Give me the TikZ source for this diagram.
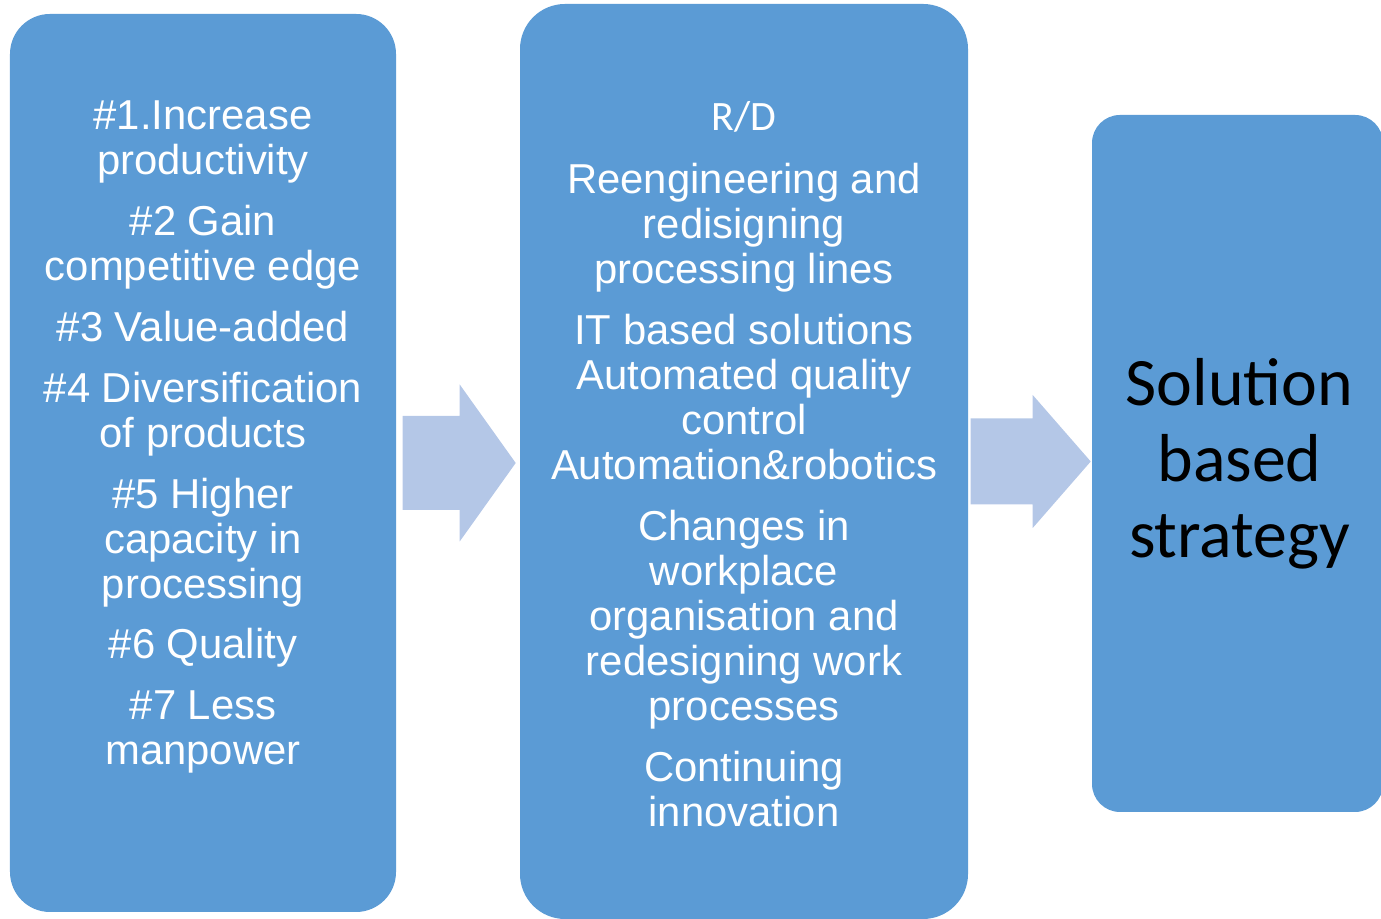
\documentclass[tikz,border=0pt]{standalone}
\usepackage{fontspec}
\setmainfont{Liberation Sans}
\newfontfamily\calib{Carlito}
\definecolor{panelblue}{HTML}{5B9BD5}
\definecolor{arrowblue}{HTML}{B4C7E7}

\begin{document}
\begin{tikzpicture}[
    panel/.style={fill=panelblue,inner sep=0},
    bodytext/.style={align=center,text=white,inner sep=0,font=\fontsize{11.9}{12.8}\selectfont},
    bigarrow/.style={fill=arrowblue}]
    \useasboundingbox(0,0)rectangle(13.81,9.19);
    % the three panels
    \node[panel,rounded corners=0.4cm,minimum width=3.86cm,minimum height=8.98cm](lbox)at(2.03,4.56){};
    \node[panel,rounded corners=0.45cm,minimum width=4.48cm,minimum height=9.15cm](mbox)at(7.44,4.575){};
    \node[panel,rounded corners=0.28cm,minimum width=2.91cm,minimum height=6.97cm](rbox)at(12.375,4.555){};
    % panel texts
    \node[bodytext](ltext)at([yshift=0.26cm]lbox.center){\#1.Increase\\productivity\\[0.16cm]
        \#2 Gain\\competitive edge\\[0.16cm]
        \#3 Value-added\\[0.16cm]
        \#4 Diversification\\of products\\[0.16cm]
        \#5 Higher\\capacity in\\processing\\[0.16cm]
        \#6 Quality\\[0.16cm]
        \#7 Less\\manpower};
    \node[bodytext](mtext)at([yshift=-0.03cm]mbox.center){{\calib R/D}\\[0.18cm]
        Reengineering and\\redisigning\\processing lines\\[0.16cm]
        IT based solutions\\Automated quality\\control\\Automation\&robotics\\[0.16cm]
        Changes in\\workplace\\organisation and\\redesigning work\\processes\\[0.16cm]
        Continuing\\innovation};
    \node[align=center,inner sep=0,font=\calib\fontsize{19.3}{21.6}\selectfont](rtext)at([xshift=0.02cm]rbox.center){Solution\\based\\strategy};
    % block arrows between the panels
    \fill[bigarrow]([xshift=0.06cm]lbox.east)++(0,0.47)--++(0.57,0)--++(0,0.315)--++(0.56,-0.785)
        --++(-0.56,-0.785)--++(0,0.315)--++(-0.57,0)--cycle;
    \fill[bigarrow]([xshift=0.02cm]mbox.east)++(0,0.43)--++(0.62,0)--++(0,0.235)--++(0.58,-0.665)
        --++(-0.58,-0.665)--++(0,0.235)--++(-0.62,0)--cycle;
\end{tikzpicture}
\end{document}
